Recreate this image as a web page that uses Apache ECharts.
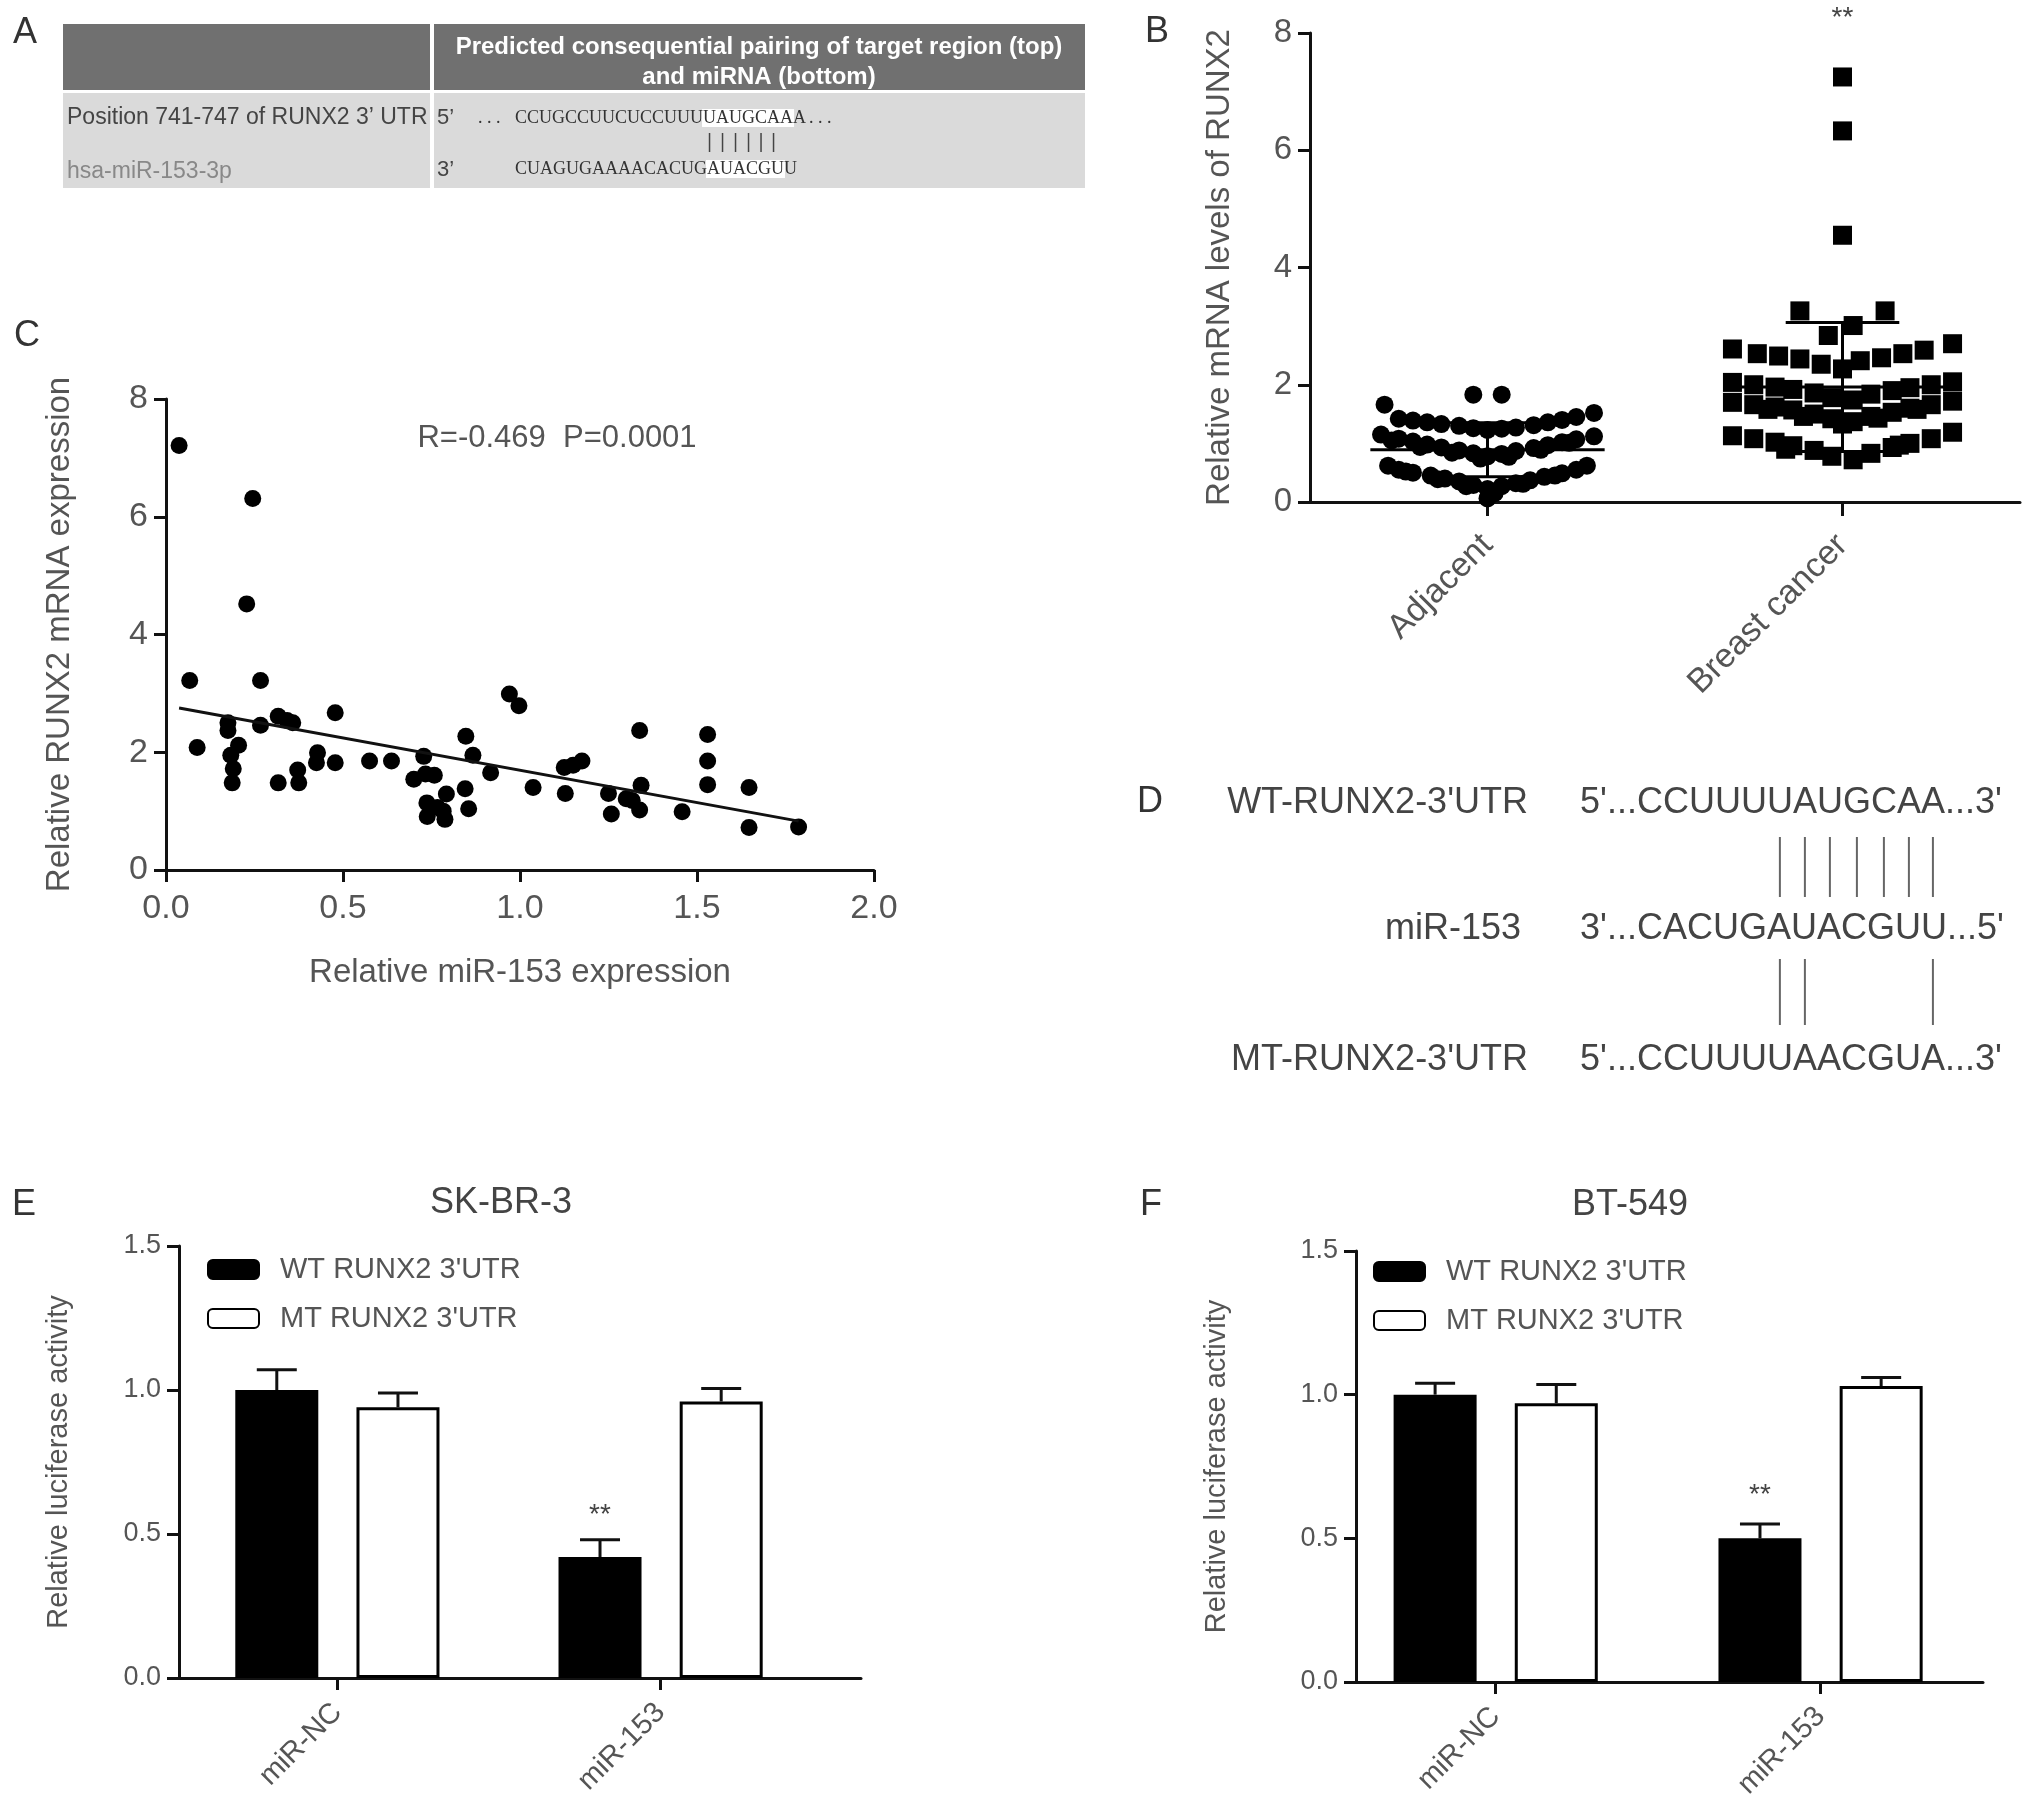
<!DOCTYPE html>
<html>
<head>
<meta charset="utf-8">
<title>RUNX2 and miR-153</title>
<script src="https://cdn.jsdelivr.net/npm/echarts@6.0.0/dist/echarts.min.js"></script>
<style>
html, body { margin: 0; padding: 0; background: #fff; }
#main { width: 2031px; height: 1808px; }
</style>
</head>
<body>
<div id="main"></div>
<script>
// ---- panel B: dot plot, jitter = horizontal spread of each dot (in category widths) ----
var groupNames = ['Adjacent', 'Breast cancer'];
var adjacentValues = [1.83, 1.83, 1.66,
  1.42, 1.39, 1.36, 1.33, 1.30, 1.26, 1.23, 1.25, 1.27, 1.31, 1.36, 1.40, 1.45, 1.52,
  1.15, 1.08, 1.03, 0.98, 0.93, 0.88, 0.83, 0.78, 0.82, 0.87, 0.92, 0.97, 1.02, 1.07, 1.12,
  1.05, 0.94, 0.84, 0.74, 0.77, 0.89, 1.01,
  0.62, 0.55, 0.50, 0.45, 0.40, 0.35, 0.29, 0.22, 0.27, 0.32, 0.37, 0.43, 0.49, 0.55, 0.62,
  0.52, 0.39, 0.27, 0.15, 0.31, 0.45,
  0.06];
var adjacentJitter = [-0.04, 0.04, -0.29,
  -0.25, -0.21, -0.17, -0.13, -0.08, -0.04, 0, 0.04, 0.08, 0.13, 0.17, 0.21, 0.25, 0.30,
  -0.30, -0.25, -0.21, -0.17, -0.13, -0.08, -0.04, 0, 0.04, 0.08, 0.13, 0.17, 0.21, 0.25, 0.30,
  -0.27, -0.19, -0.10, -0.02, 0.06, 0.15, 0.23,
  -0.28, -0.25, -0.21, -0.16, -0.12, -0.08, -0.04, 0, 0.04, 0.08, 0.12, 0.16, 0.21, 0.25, 0.28,
  -0.23, -0.14, -0.06, 0.02, 0.10, 0.19,
  0];
var cancerValues = [7.25, 6.33, 4.55,
  3.26, 3.26, 2.84, 3.01,
  2.61, 2.53, 2.49, 2.44, 2.35, 2.27, 2.41, 2.46, 2.53, 2.59, 2.70,
  2.04, 2.00, 1.96, 1.92, 1.86, 1.78, 1.74, 1.84, 1.90, 1.95, 2.00, 2.05,
  1.70, 1.66, 1.62, 1.57, 1.50, 1.42, 1.37, 1.46, 1.53, 1.60, 1.66, 1.72,
  1.58, 1.46, 1.33, 1.43, 1.58,
  1.13, 1.08, 1.02, 0.96, 0.88, 0.78, 0.72, 0.83, 0.93, 1.00, 1.08, 1.19,
  0.90, 0.97];
var cancerJitter = [0, 0, 0,
  -0.12, 0.12, -0.04, 0.03,
  -0.31, -0.24, -0.18, -0.12, -0.06, 0, 0.05, 0.11, 0.17, 0.23, 0.31,
  -0.31, -0.25, -0.19, -0.14, -0.08, -0.03, 0.03, 0.08, 0.14, 0.19, 0.25, 0.31,
  -0.31, -0.25, -0.19, -0.14, -0.08, -0.03, 0.03, 0.08, 0.14, 0.19, 0.25, 0.31,
  -0.21, -0.11, 0.00, 0.10, 0.21,
  -0.31, -0.25, -0.19, -0.14, -0.08, -0.03, 0.03, 0.08, 0.14, 0.19, 0.25, 0.31,
  -0.16, 0.16];
var groupMean = [0.89, 1.96];
var groupSD = [0.46, 1.10];
var starB = [2, 8.25];

// ---- panel C: correlation ----
var mirLevel = [0.037, 0.245, 0.228, 0.067, 0.267, 0.088, 0.175, 0.175, 0.205, 0.183,
  0.19, 0.187, 0.267, 0.317, 0.342, 0.358, 0.317, 0.372, 0.375, 0.428,
  0.425, 0.478, 0.478, 0.575, 0.637, 0.728, 0.70, 0.733, 0.758, 0.737,
  0.738, 0.767, 0.792, 0.788, 0.783, 0.847, 0.845, 0.855, 0.867, 0.917,
  0.970, 0.997, 1.037, 1.125, 1.15, 1.175, 1.128, 1.25, 1.258, 1.30,
  1.317, 1.338, 1.342, 1.338, 1.458, 1.53, 1.53, 1.53, 1.647, 1.647, 1.787];
var runxLevel = [7.21, 6.31, 4.52, 3.22, 3.22, 2.08, 2.50, 2.37, 2.12, 1.95,
  1.72, 1.48, 2.46, 2.61, 2.54, 2.50, 1.48, 1.70, 1.48, 1.99,
  1.82, 2.67, 1.82, 1.85, 1.85, 1.93, 1.54, 1.63, 1.61, 1.14,
  0.91, 1.06, 1.29, 0.86, 1.00, 2.27, 1.38, 1.04, 1.95, 1.65,
  2.99, 2.79, 1.40, 1.74, 1.78, 1.85, 1.30, 1.30, 0.95, 1.21,
  1.18, 2.37, 1.44, 1.02, 0.99, 2.30, 1.85, 1.45, 1.40, 0.72, 0.73];
var fitX = [0.037, 1.787];
var fitY = [2.75, 0.83];

// ---- panels E and F: luciferase ----
var lucCategories = ['miR-NC', 'miR-153'];
var wtName = "WT RUNX2 3'UTR";
var mtName = "MT RUNX2 3'UTR";
var skWT = [1.00, 0.42], skWTerr = [0.07, 0.06];
var skMT = [0.94, 0.96], skMTerr = [0.05, 0.045];
var skStar = [1, 0.566];
var btWT = [1.00, 0.50], btWTerr = [0.04, 0.05];
var btMT = [0.97, 1.03], btMTerr = [0.065, 0.03];
var btStar = [1, 0.65];

var FONT = '"Liberation Sans", Arial, Helvetica, sans-serif';
var SERIF = '"Liberation Serif", "Times New Roman", serif';
var GRAY = '#555';
var INK = '#111';
var BAR_PX = 83, BAR_GAP = 0.46;
var BAR_SHIFT_PX = BAR_PX * (1 + BAR_GAP) / 2;

var measureCtx = document.createElement('canvas').getContext('2d');
function textWidth(str, font) {
  measureCtx.font = font;
  return measureCtx.measureText(str).width;
}

function meanSdItem(params, api) {
  var x = api.value(0), m = api.value(1), sd = api.value(2);
  var a = api.coord([x - 0.33, m]), b = api.coord([x + 0.33, m]);
  var hi = api.coord([x, m + sd]), lo = api.coord([x, m - sd]);
  var cw = api.size([0.16, 0])[0];
  var st = { stroke: '#000', lineWidth: 3 };
  return { type: 'group', children: [
    { type: 'line', shape: { x1: a[0], y1: a[1], x2: b[0], y2: b[1] }, style: st },
    { type: 'line', shape: { x1: hi[0], y1: hi[1], x2: lo[0], y2: lo[1] }, style: st },
    { type: 'line', shape: { x1: hi[0] - cw, y1: hi[1], x2: hi[0] + cw, y2: hi[1] }, style: st },
    { type: 'line', shape: { x1: lo[0] - cw, y1: lo[1], x2: lo[0] + cw, y2: lo[1] }, style: st }
  ]};
}

function errItem(params, api) {
  var c = api.value(0), v = api.value(1), e = api.value(2), side = api.value(3);
  var p0 = api.coord([c, v]), p1 = api.coord([c, v + e]);
  var x = p0[0] + side * BAR_SHIFT_PX;
  var cap = 20;
  var st = { stroke: INK, lineWidth: 3 };
  return { type: 'group', children: [
    { type: 'line', shape: { x1: x, y1: p0[1], x2: x, y2: p1[1] }, style: st },
    { type: 'line', shape: { x1: x - cap, y1: p1[1], x2: x + cap, y2: p1[1] }, style: st }
  ]};
}

function starItem(params, api) {
  var p = api.coord([api.value(0), api.value(1)]);
  return { type: 'text', x: p[0] + api.value(2) * BAR_SHIFT_PX, y: p[1],
    style: { text: '**', fontSize: 28, fontFamily: FONT, fill: '#444', align: 'center', verticalAlign: 'middle' } };
}

function errRows(wt, wtErr, mt, mtErr) {
  var rows = [];
  for (var i = 0; i < wt.length; i++) {
    rows.push([i, wt[i], wtErr[i], -1]);
    rows.push([i, mt[i], mtErr[i], 1]);
  }
  return rows;
}

function valueYAxis(grid, max, interval, name, nameGap, fontSize, nameSize, fmt) {
  return {
    type: 'value', gridIndex: grid, min: 0, max: max, interval: interval,
    name: name, nameLocation: 'middle', nameGap: nameGap, nameRotate: 90,
    nameTextStyle: { fontSize: nameSize, color: GRAY, fontFamily: FONT },
    axisLine: { show: true, onZero: false, lineStyle: { color: INK, width: 3 } },
    axisTick: { show: true, length: 12, lineStyle: { color: INK, width: 3 } },
    axisLabel: { fontSize: fontSize, color: GRAY, fontFamily: FONT, margin: 18, formatter: fmt },
    splitLine: { show: false }
  };
}

// category positions 0 and 1 on a value axis, so the axis line can run past the last group
function lucXAxis(grid, min, max) {
  return {
    type: 'value', gridIndex: grid, min: min, max: max,
    axisLine: { onZero: false, lineStyle: { color: INK, width: 3 } },
    axisTick: { show: true, customValues: [0, 1], length: 12, lineStyle: { color: INK, width: 3 } },
    axisLabel: { customValues: [0, 1], rotate: 45, fontSize: 29, color: GRAY, fontFamily: FONT, margin: 30,
      formatter: function (v) { return lucCategories[Math.round(v)]; } },
    splitLine: { show: false }
  };
}

function lucLegend(left, top) {
  return {
    orient: 'vertical', left: left, top: top, data: [wtName, mtName],
    icon: 'roundRect', itemWidth: 51, itemHeight: 19, itemGap: 20, selectedMode: false,
    formatter: function (n) { return '{t|' + n + '}'; },
    textStyle: { rich: { t: { fontSize: 29, color: GRAY, fontFamily: FONT, padding: [0, 0, 0, 16] } } }
  };
}

function pairs(values) {
  return values.map(function (v, i) { return [i, v]; });
}

function lucSeries(axis, wt, wtErr, mt, mtErr, star) {
  return [
    { name: wtName, type: 'bar', xAxisIndex: axis, yAxisIndex: axis, data: pairs(wt),
      barWidth: BAR_PX, barGap: (BAR_GAP * 100) + '%',
      itemStyle: { color: '#000', borderColor: '#000', borderWidth: 3 } },
    { name: mtName, type: 'bar', xAxisIndex: axis, yAxisIndex: axis, data: pairs(mt),
      barWidth: BAR_PX, barGap: (BAR_GAP * 100) + '%',
      itemStyle: { color: '#fff', borderColor: '#000', borderWidth: 3 } },
    { type: 'custom', xAxisIndex: axis, yAxisIndex: axis, renderItem: errItem, z: 5,
      data: errRows(wt, wtErr, mt, mtErr) },
    { type: 'custom', xAxisIndex: axis, yAxisIndex: axis, renderItem: starItem, z: 5,
      data: [[star[0], star[1], -1]] }
  ];
}

// ---- diagram panels A and D (static text) ----
function txt(x, y, s, size, opts) {
  opts = opts || {};
  return { type: 'text', x: x, y: y, silent: true,
    style: { text: s, fontSize: size, fontFamily: opts.family || FONT, fontWeight: opts.weight || 'normal',
      fill: opts.fill || GRAY, align: opts.align || 'left', verticalAlign: 'middle', lineHeight: opts.lineHeight } };
}
function vline(x, y1, y2, color, w) {
  return { type: 'line', silent: true, shape: { x1: x, y1: y1, x2: x, y2: y2 }, style: { stroke: color, lineWidth: w } };
}

var graphics = [];
[['A', 13, 33], ['B', 1145, 32], ['C', 14, 336], ['D', 1137, 802], ['E', 12, 1205], ['F', 1140, 1205]]
  .forEach(function (p) { graphics.push(txt(p[1], p[2], p[0], 36, { fill: '#333' })); });
graphics.push(txt(501, 1203, 'SK-BR-3', 36, { fill: '#444', align: 'center' }));
graphics.push(txt(1630, 1205, 'BT-549', 36, { fill: '#444', align: 'center' }));
graphics.push(txt(557, 438, 'R=-0.469  P=0.0001', 31, { fill: GRAY, align: 'center' }));

// panel A table
graphics.push({ type: 'rect', silent: true, shape: { x: 63, y: 24, width: 367, height: 66 }, style: { fill: '#707070' } });
graphics.push({ type: 'rect', silent: true, shape: { x: 434, y: 24, width: 651, height: 66 }, style: { fill: '#707070' } });
graphics.push({ type: 'rect', silent: true, shape: { x: 63, y: 93, width: 367, height: 95 }, style: { fill: '#dadada' } });
graphics.push({ type: 'rect', silent: true, shape: { x: 434, y: 93, width: 651, height: 95 }, style: { fill: '#dadada' } });
graphics.push(txt(759, 62, 'Predicted consequential pairing of target region (top)\nand miRNA (bottom)', 24,
  { fill: '#fff', weight: 'bold', align: 'center', lineHeight: 30 }));
graphics.push(txt(67, 118, 'Position 741-747 of RUNX2 3\u2019 UTR', 23, { fill: '#444' }));
graphics.push(txt(67, 172, 'hsa-miR-153-3p', 23, { fill: '#888' }));
graphics.push(txt(437, 118, '5\u2019', 22, { fill: '#444' }));
graphics.push(txt(437, 170, '3\u2019', 22, { fill: '#444' }));

var seqTop = 'CCUGCCUUCUCCUUUUAUGCAAA';
var seqBottom = 'CUAGUGAAAACACUGAUACGUU';
var seqFont = '18px "Liberation Serif"';
var seqX = 515;
function letterLeft(seq, k) { return seqX + textWidth(seq.slice(0, k), seqFont); }
var hlTop0 = letterLeft(seqTop, 15), hlTop1 = letterLeft(seqTop, 22);
var hlBot0 = letterLeft(seqBottom, 15), hlBot1 = letterLeft(seqBottom, 21);
graphics.push({ type: 'rect', silent: true, shape: { x: hlTop0 - 1, y: 109, width: hlTop1 - hlTop0 + 2, height: 18 }, style: { fill: '#fff' } });
graphics.push({ type: 'rect', silent: true, shape: { x: hlBot0 - 1, y: 160, width: hlBot1 - hlBot0 + 2, height: 18 }, style: { fill: '#fff' } });
graphics.push(txt(478, 118, '. . .', 18, { family: SERIF, fill: '#333' }));
graphics.push(txt(seqX, 118, seqTop, 18, { family: SERIF, fill: '#333' }));
graphics.push(txt(seqX + textWidth(seqTop, seqFont) + 3, 118, '. . .', 18, { family: SERIF, fill: '#333' }));
graphics.push(txt(seqX, 169, seqBottom, 18, { family: SERIF, fill: '#333' }));
for (var k = 15; k < 21; k++) {
  var cx = letterLeft(seqTop, k) + textWidth(seqTop[k], seqFont) / 2;
  graphics.push(vline(cx, 133, 152, '#444', 1.5));
}

// panel D
var dFont = '36px "Liberation Sans"';
var dX = 1580;
var dRows = [
  ['WT-RUNX2-3\'UTR', 1528, 803, '5\'...', 'CCUUUUAUGCAA', '...3\''],
  ['miR-153', 1521, 929, '3\'...', 'CACUGAUACGUU', '...5\''],
  ['MT-RUNX2-3\'UTR', 1528, 1060, '5\'...', 'CCUUUUAACGUA', '...3\'']
];
dRows.forEach(function (r) {
  graphics.push(txt(r[1], r[2], r[0], 36, { fill: '#444', align: 'right' }));
  graphics.push(txt(dX, r[2], r[3] + r[4] + r[5], 36, { fill: '#444' }));
});
function dLetterCenter(k) {
  var pre = dRows[0][3] + dRows[0][4].slice(0, k);
  return dX + textWidth(pre, dFont) + textWidth(dRows[0][4][k], dFont) / 2;
}
[5, 6, 7, 8, 9, 10, 11].forEach(function (k) { graphics.push(vline(dLetterCenter(k), 837, 897, '#666', 2)); });
[5, 6, 11].forEach(function (k) { graphics.push(vline(dLetterCenter(k), 959, 1025, '#666', 2)); });

// ---- chart ----
var chart = echarts.init(document.getElementById('main'), null, { renderer: 'canvas' });
chart.setOption({
  animation: false,
  backgroundColor: '#fff',
  textStyle: { fontFamily: FONT },
  grid: [
    { left: 1310, top: 33, width: 710, height: 469 },   // B
    { left: 166, top: 399, width: 708, height: 471 },   // C
    { left: 179, top: 1246, width: 682, height: 432 },  // E
    { left: 1356, top: 1251, width: 627, height: 431 }  // F
  ],
  legend: [lucLegend(202, 1250), lucLegend(1368, 1252)],
  xAxis: [
    {
      type: 'value', gridIndex: 0, min: 0.5, max: 2.5,
      axisLine: { onZero: false, lineStyle: { color: INK, width: 3 } },
      axisTick: { show: true, customValues: [1, 2], length: 14, lineStyle: { color: INK, width: 3 } },
      axisLabel: { customValues: [1, 2], rotate: 45, fontSize: 34, color: GRAY, fontFamily: FONT, margin: 38,
        formatter: function (v) { return groupNames[Math.round(v) - 1]; } },
      splitLine: { show: false }
    },
    {
      type: 'value', gridIndex: 1, min: 0, max: 2, interval: 0.5,
      name: 'Relative miR-153 expression', nameLocation: 'middle', nameGap: 86,
      nameTextStyle: { fontSize: 33, color: GRAY, fontFamily: FONT },
      axisLine: { onZero: false, lineStyle: { color: INK, width: 3 } },
      axisTick: { length: 12, lineStyle: { color: INK, width: 3 } },
      axisLabel: { fontSize: 34, color: GRAY, fontFamily: FONT, margin: 22,
        formatter: function (v) { return v.toFixed(1); } },
      splitLine: { show: false }
    },
    lucXAxis(2, -0.49, 1.62),
    lucXAxis(3, -0.43, 1.50)
  ],
  yAxis: [
    valueYAxis(0, 8, 2, 'Relative mRNA levels of RUNX2', 74, 33, 33),
    valueYAxis(1, 8, 2, 'Relative RUNX2 mRNA expression', 90, 34, 33),
    valueYAxis(2, 1.5, 0.5, 'Relative luciferase activity', 106, 27, 29, function (v) { return v.toFixed(1); }),
    valueYAxis(3, 1.5, 0.5, 'Relative luciferase activity', 125, 27, 29, function (v) { return v.toFixed(1); })
  ],
  series: [
    { type: 'scatter', xAxisIndex: 0, yAxisIndex: 0, symbol: 'circle', symbolSize: 18,
      itemStyle: { color: '#000', opacity: 1 },
      data: adjacentValues.map(function (v, i) { return [1 + adjacentJitter[i], v]; }) },
    { type: 'scatter', xAxisIndex: 0, yAxisIndex: 0, symbol: 'rect', symbolSize: 19,
      itemStyle: { color: '#000', opacity: 1 },
      data: cancerValues.map(function (v, i) { return [2 + cancerJitter[i], v]; }) },
    { type: 'custom', xAxisIndex: 0, yAxisIndex: 0, renderItem: meanSdItem, z: 5,
      data: groupMean.map(function (m, i) { return [i + 1, m, groupSD[i]]; }) },
    { type: 'custom', xAxisIndex: 0, yAxisIndex: 0, renderItem: starItem, z: 5,
      data: [[starB[0], starB[1], 0]] },
    { type: 'scatter', xAxisIndex: 1, yAxisIndex: 1, symbol: 'circle', symbolSize: 17,
      itemStyle: { color: '#000', opacity: 1 },
      data: mirLevel.map(function (x, i) { return [x, runxLevel[i]]; }) },
    { type: 'line', xAxisIndex: 1, yAxisIndex: 1, symbol: 'none', z: 4,
      lineStyle: { color: '#111', width: 3 },
      data: fitX.map(function (x, i) { return [x, fitY[i]]; }) }
  ].concat(lucSeries(2, skWT, skWTerr, skMT, skMTerr, skStar))
   .concat(lucSeries(3, btWT, btWTerr, btMT, btMTerr, btStar)),
  graphic: graphics
});
</script>
</body>
</html>
